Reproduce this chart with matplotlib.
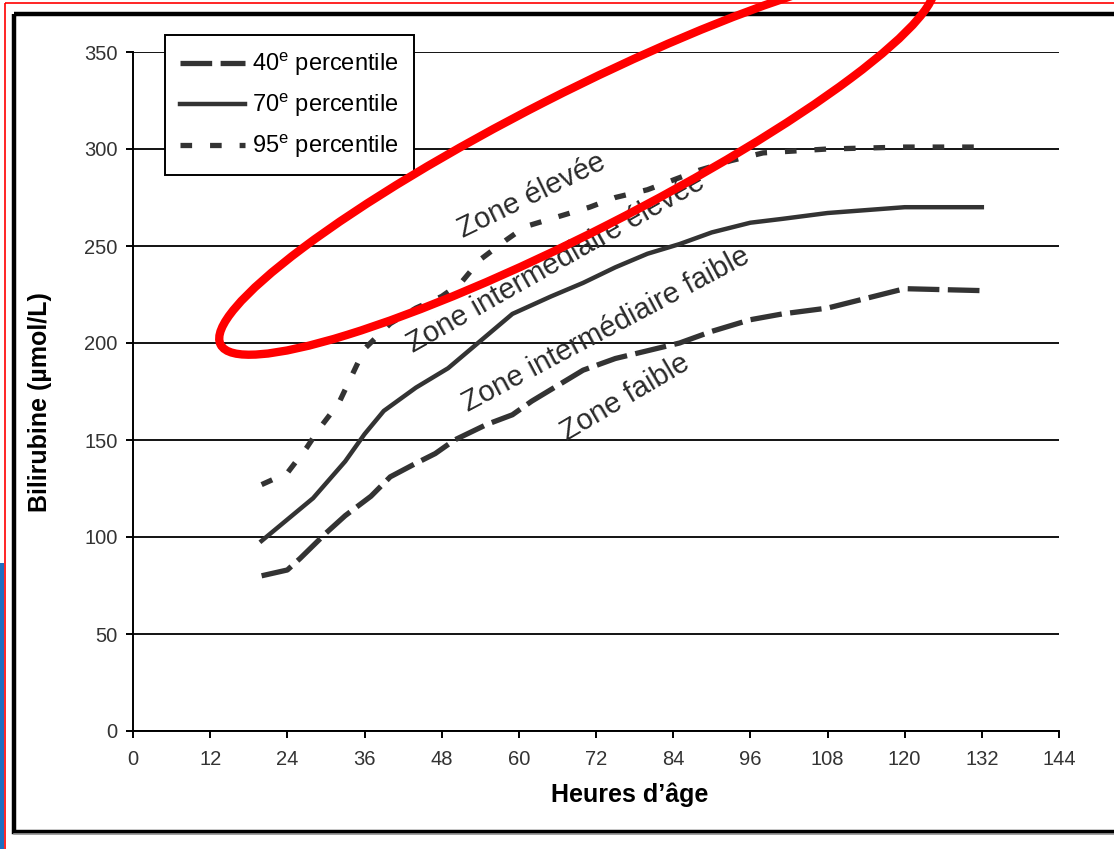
import numpy as np
import matplotlib.pyplot as plt
from matplotlib.patches import Ellipse, Rectangle

plt.rcParams['font.family'] = ['Liberation Sans', 'DejaVu Sans']
plt.rcParams['mathtext.fontset'] = 'custom'
plt.rcParams['mathtext.rm'] = 'Liberation Sans'

# data (hours of age -> bilirubin umol/L)
hours_40 = [20, 24, 26, 30, 33, 37, 40, 44, 47, 50, 55, 59, 62, 70, 75, 80, 85, 90, 96, 101, 108, 114, 120, 132]
p40 = [80, 83, 89, 102, 111, 121, 131, 138, 143, 150, 158, 163, 170, 186, 192, 196, 200, 206, 212, 215, 218, 223, 228, 227]

hours_70 = [20, 28, 33, 36, 39, 44, 49, 54, 59, 65, 70, 75, 80, 85, 90, 96, 101, 108, 120, 132]
p70 = [98, 120, 139, 153, 165, 177, 187, 201, 215, 224, 231, 239, 246, 251, 257, 262, 264, 267, 270, 270]

hours_95 = [20, 24, 27, 29, 32, 36, 40, 44, 48, 51, 54, 58, 61, 66, 71, 75, 80, 84, 88, 93, 98, 108, 120, 132]
p95 = [127, 133, 146, 156, 169, 197, 210, 218, 224, 231, 243, 253, 260, 265, 270, 275, 279, 284, 289, 294, 298, 300, 301, 301]

legend_labels = ['40$^{\\mathrm{e}}$ percentile', '70$^{\\mathrm{e}}$ percentile', '95$^{\\mathrm{e}}$ percentile']
zone_labels = ['Zone élevée', 'Zone intermédiaire élevée', 'Zone intermédiaire faible', 'Zone faible']
zone_x = [62.0, 65.7, 73.5, 76.6]
zone_y = [276, 241, 207, 172]
zone_rot = [26, 29.5, 28, 30.5]

W, H = 1114, 849
fig = plt.figure(figsize=(W / 100, H / 100), dpi=100)
ax = fig.add_axes([133 / W, 1 - 731 / H, (1059 - 133) / W, (731 - 52) / H])

line_col = '#333333'
l40, = ax.plot(hours_40, p40, color=line_col, lw=3.8, dashes=(6.0, 1.6))
l70, = ax.plot(hours_70, p70, color=line_col, lw=3.2)
l95, = ax.plot(hours_95, p95, color=line_col, lw=3.8, dashes=(2.2, 3.4))

ax.set_xlim(0, 144)
ax.set_ylim(0, 350)
ax.set_xticks(np.arange(0, 145, 12))
ax.set_yticks(np.arange(0, 351, 50))
ax.yaxis.grid(True, color='black', lw=1.3)
ax.set_axisbelow(True)
for s in ['top', 'right']:
    ax.spines[s].set_visible(False)
for s in ['left', 'bottom']:
    ax.spines[s].set_linewidth(1.4)
ax.tick_params(length=5, width=1.4, labelsize=14.5, labelcolor='#333333')
ax.tick_params(axis='x', pad=9)
ax.tick_params(axis='y', pad=6)
ax.set_xlabel("Heures d\u2019âge", fontsize=18, fontweight='bold', va='center')
ax.xaxis.set_label_coords(0.536, -0.094)
ax.set_ylabel('Bilirubine (µmol/L)', fontsize=18, fontweight='bold', va='center')
ax.yaxis.set_label_coords(-0.1004, 0.4845)

for lab, x, y, r in zip(zone_labels, zone_x, zone_y, zone_rot):
    ax.text(x, y, lab, rotation=r, ha='center', va='center', fontsize=21,
            color='#2a2a2a', rotation_mode='anchor')

leg = ax.legend([l40, l70, l95], legend_labels, loc='upper left',
                bbox_to_anchor=(165 / W, 1 - 35 / H), bbox_transform=fig.transFigure,
                borderaxespad=0, fontsize=17, frameon=True, fancybox=False,
                edgecolor='black', handlelength=2.75, labelspacing=0.55,
                borderpad=0.65, handletextpad=0.3)
leg.get_frame().set_linewidth(1.4)
leg.get_frame().set_alpha(1)

# overlay in pixel coordinates for the frame and the red highlight
ov = fig.add_axes([0, 0, 1, 1], zorder=10)
ov.set_xlim(0, W)
ov.set_ylim(H, 0)
ov.axis('off')
ov.add_patch(Rectangle((0, 563), 4, 300, color='#1f6fc0', lw=0))
ov.add_patch(Rectangle((4.5, 3), 1200, 1000, fill=False, edgecolor='red', lw=1.2))
ov.add_patch(Rectangle((14, 13.5), 1200, 818, fill=False, edgecolor='black', lw=3.2))
ov.plot([14, 1114], [834, 834], color='#999999', lw=1.2)
ov.add_patch(Ellipse((577, 163), 800, 138, angle=-27, fill=False, edgecolor='red', lw=6))

fig.savefig('out.png', dpi=100)
